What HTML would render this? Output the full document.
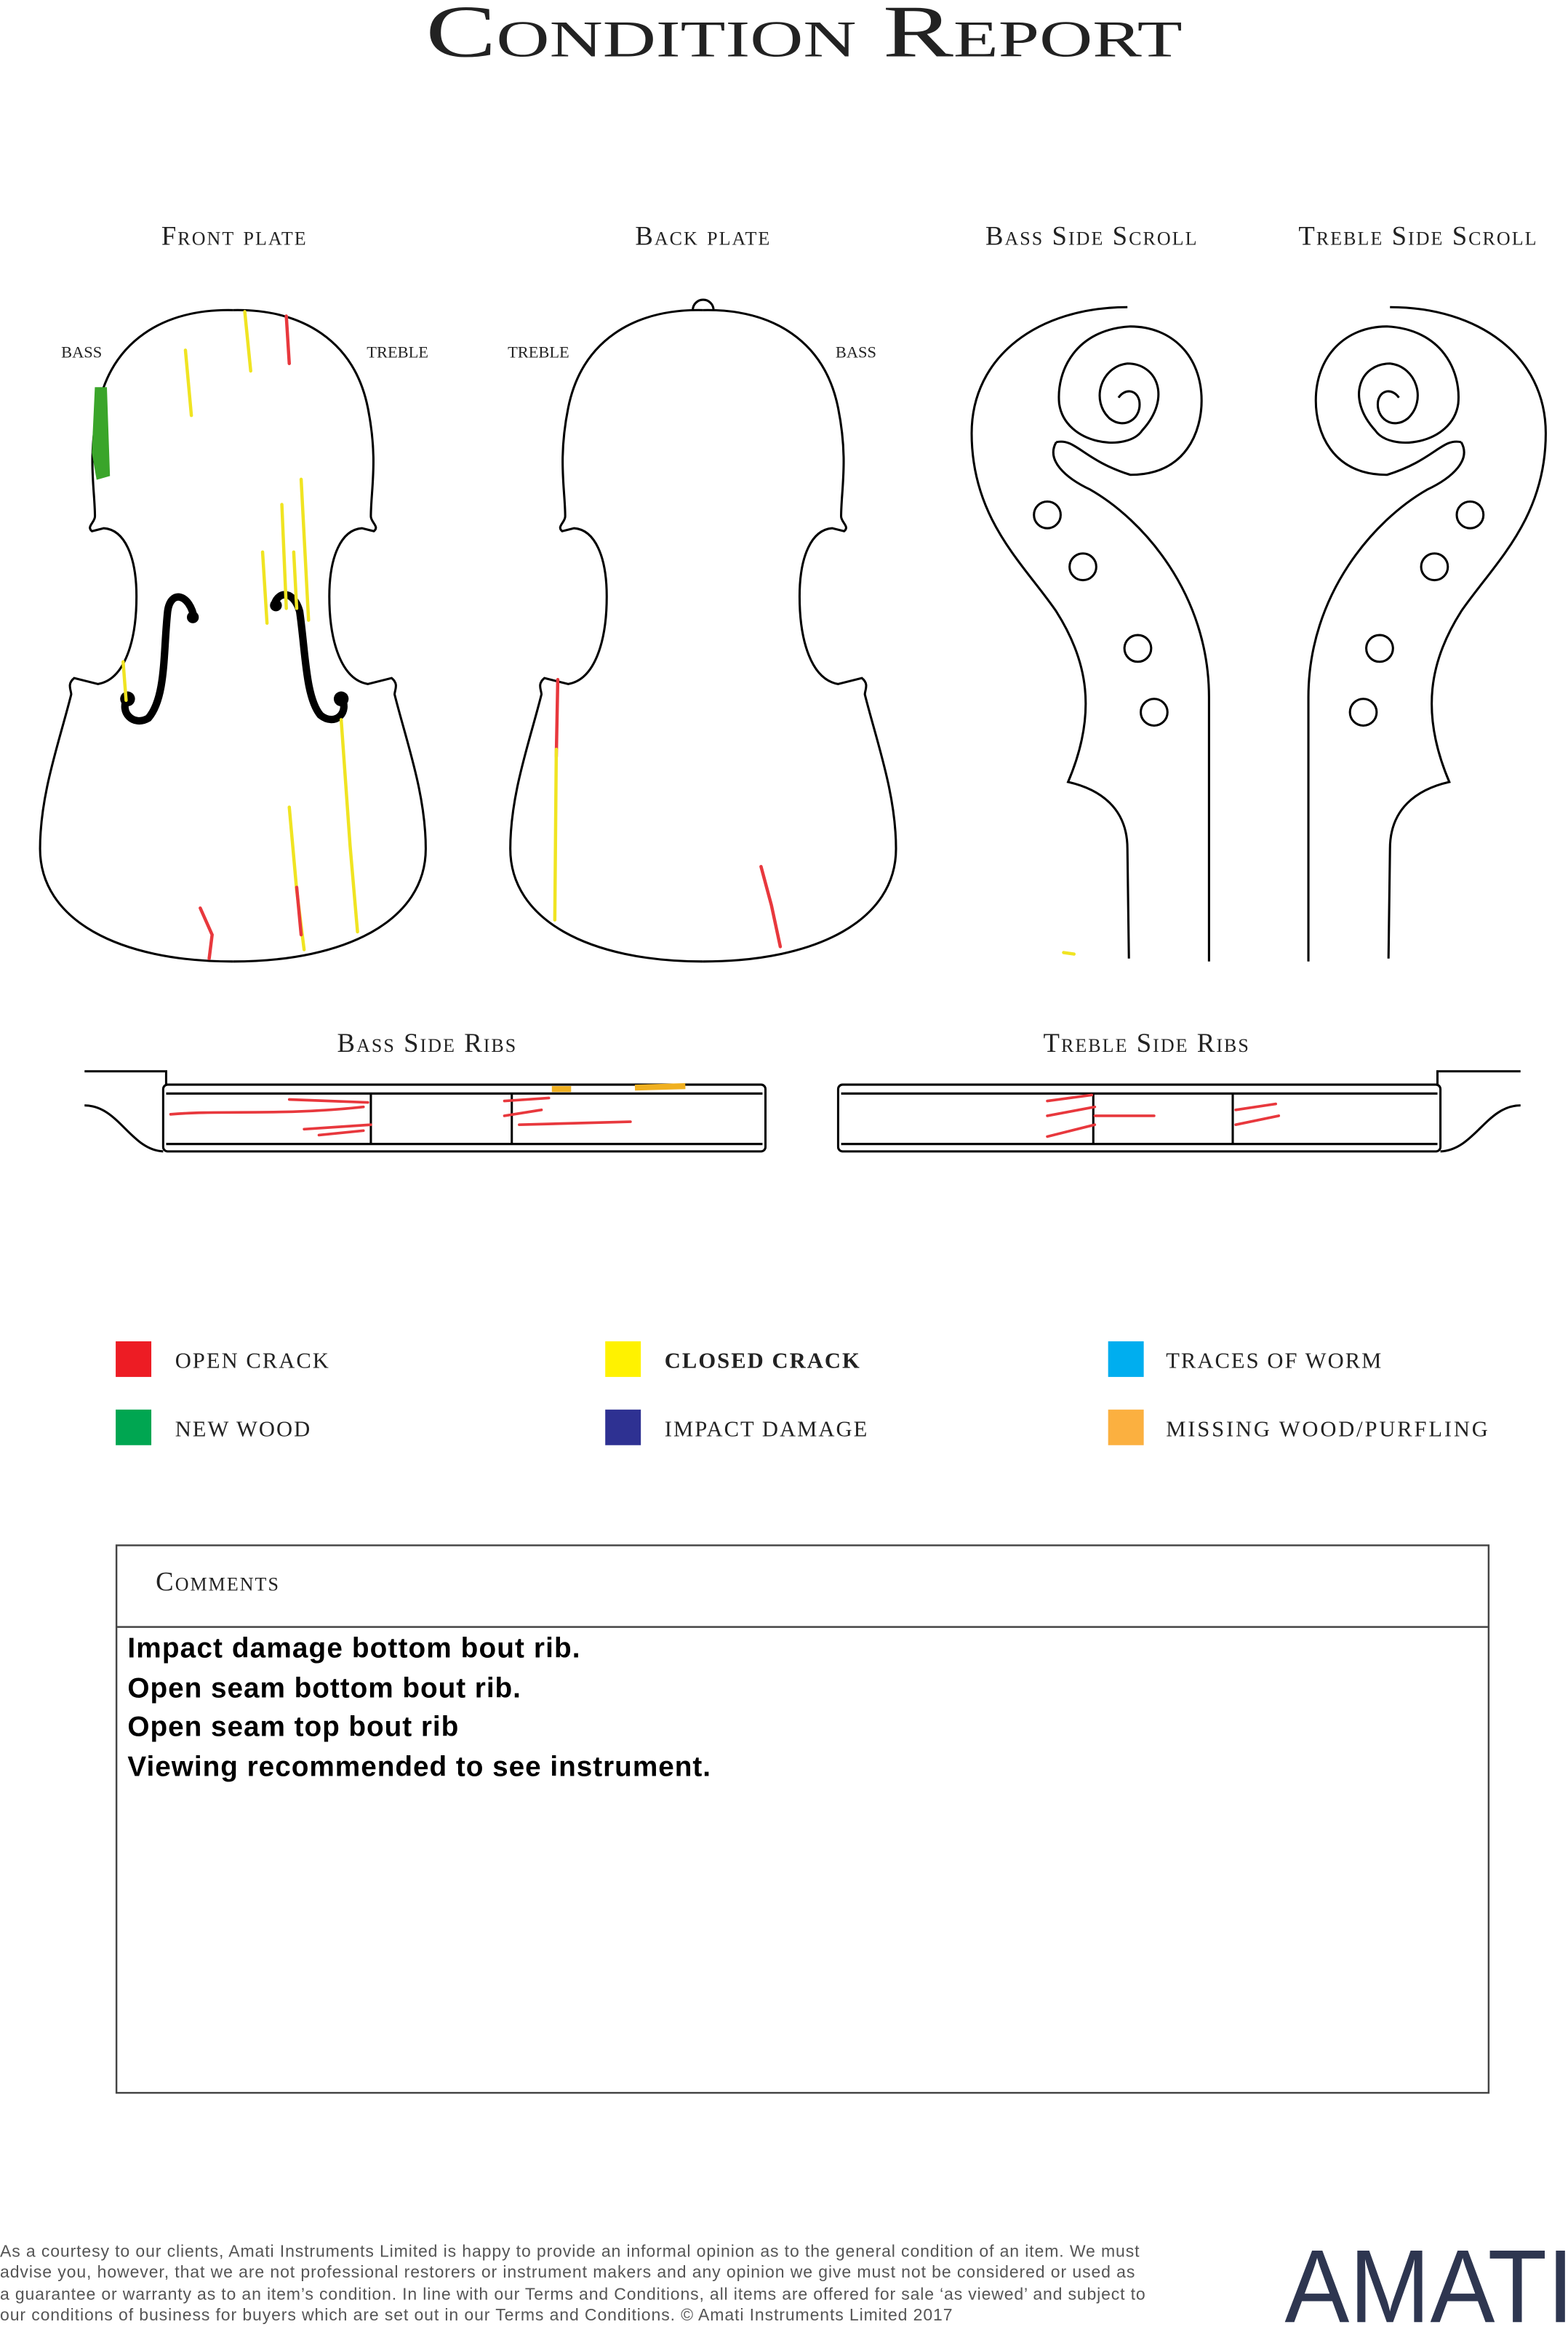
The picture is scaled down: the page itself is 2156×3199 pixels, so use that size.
<!DOCTYPE html>
<html><head><meta charset="utf-8"><style>
html,body{margin:0;padding:0;background:#fff}
svg{display:block}
.sc{font-family:"Liberation Serif",serif;font-variant:small-caps;fill:#222}
.o{fill:none;stroke:#000;stroke-width:1.5}
</style></head><body>
<svg width="2156" height="3199" viewBox="0 0 1057 1568.3" xmlns="http://www.w3.org/2000/svg">
<text x="287" y="38" class="sc" font-size="50" textLength="510" lengthAdjust="spacingAndGlyphs">Condition Report</text>

<g class="sc" font-size="18" text-anchor="middle" letter-spacing="1">
<text x="158" y="165">Front plate</text>
<text x="474" y="165">Back plate</text>
<text x="736" y="165">Bass Side Scroll</text>
<text x="956" y="165">Treble Side Scroll</text>
<text x="288" y="709">Bass Side Ribs</text>
<text x="773" y="709">Treble Side Ribs</text>
</g>
<g class="sc" font-size="11" text-anchor="middle">
<text x="55" y="241">BASS</text><text x="268" y="241">TREBLE</text>
<text x="363" y="241">TREBLE</text><text x="577" y="241">BASS</text>
</g>

<defs>
<path id="half" d="M157,209 C110,208 75,230 66,275 C59,310 64,330 64,348 C64,352 58,355 62,358 L70,356 C84,357 92,375 92,402 C92,432 84,458 66,461 L50,457 C45,461 48,465 48,468 C40,500 27,535 27,572 C27,620 80,648 157,648"/>
<g id="scroll">
<path d="M760,207 C700,207 655,240 655,292 C655,350 690,380 712,412 C733,445 740,480 720,527 C742,532 760,545 760,572 L761,646"/>
<path d="M712,298 C705,310 718,322 735,330 C770,350 815,400 815,470 L815,648"/>
<path d="M712,298 C725,295 730,310 762,320 C800,320 810,290 810,270 C810,240 790,220 762,220 C725,222 712,250 714,272 C718,300 760,305 770,290 C790,268 780,245 760,245 C742,247 735,270 748,282 C758,290 770,282 768,270 C766,262 758,262 754,268"/>
<circle cx="706" cy="347" r="9"/><circle cx="730" cy="382" r="9"/><circle cx="767" cy="437" r="9"/><circle cx="778" cy="480" r="9"/>
</g>
</defs>
<g class="o">
<use href="#half"/><use href="#half" transform="translate(314,0) scale(-1,1)"/>
<g transform="translate(317,0)"><use href="#half"/><use href="#half" transform="translate(314,0) scale(-1,1)"/></g>
<path d="M467,209 A7,7 0 0 1 481,209"/>
<use href="#scroll"/>
<use href="#scroll" transform="translate(1697,0) scale(-1,1)"/>
</g>
<!-- f-holes -->
<g fill="none" stroke="#000" stroke-linecap="round">
<path d="M131,417 C128,400 115,397 113,412 C110,440 112,470 100,484 C90,490 80,480 86,470" stroke-width="5"/>
<path d="M185,407 C188,398 198,398 202,412 C206,440 206,470 216,482 C226,490 236,480 230,470" stroke-width="5"/>
</g>
<g fill="#000"><circle cx="130" cy="416" r="4"/><circle cx="86" cy="471" r="5"/><circle cx="186" cy="408" r="4"/><circle cx="230" cy="471" r="5"/></g>

<g fill="none" stroke-width="2.2" stroke-linecap="round">
<path d="M65,262 L63,305 L66,322 L73,320 L71,262 Z M67,265 L70,318" stroke="#3aa52a" fill="#3aa52a"/>
<g stroke="#f0e422">
<path d="M125,236 L129,280"/><path d="M165,210 L169,250"/><path d="M190,340 L193,410"/><path d="M203,323 L208,418"/>
<path d="M177,372 L180,420"/><path d="M198,372 L200,410"/><path d="M83,446 L85,472"/>
<path d="M230,485 L236,570 L241,628"/><path d="M195,544 L200,600 L205,640"/>
</g>
<g stroke="#e8383d"><path d="M193,213 L195,245"/><path d="M135,612 L143,630 L141,646"/><path d="M200,598 L203,630"/></g>
<path d="M376,458 L375,510" stroke="#e8383d"/><path d="M375,505 L374,620" stroke="#f0e422"/>
<path d="M513,584 L520,610 L526,638" stroke="#e8383d"/>
<path d="M717,642 L724,643" stroke="#f0e422"/>
</g>

<g class="o">
<rect x="110" y="731" width="406" height="45" rx="3"/><path d="M112,737 H514 M112,771 H514 M250,737 V771 M345,737 V771"/>
<path d="M57,722 H112 V731 M57,745 C80,745 88,775 110,776"/>
<rect x="565" y="731" width="406" height="45" rx="3"/><path d="M567,737 H969 M567,771 H969 M737,737 V771 M831,737 V771"/>
<path d="M1025,722 H969 V731 M1025,745 C1002,745 994,775 971,776"/>
</g>
<g fill="none" stroke="#e8383d" stroke-width="1.8" stroke-linecap="round">
<path d="M115,751 C150,748 190,752 245,746"/><path d="M195,741 L248,743"/><path d="M205,761 L250,758"/><path d="M215,765 L245,762"/>
<path d="M340,742 L370,740"/><path d="M340,752 L365,748"/><path d="M350,758 L425,756"/>
<path d="M706,742 L736,738"/><path d="M706,752 L738,746"/><path d="M706,766 L738,758"/><path d="M738,752 L778,752"/>
<path d="M833,748 L860,744"/><path d="M833,758 L862,752"/>
</g>
<g stroke="#f0b020" stroke-width="4"><path d="M372,734 L385,734"/><path d="M428,733 L462,732"/></g>

<rect x="78" y="904" width="24" height="24" fill="#ed1c24"/><rect x="78" y="950" width="24" height="24" fill="#00a651"/>
<rect x="408" y="904" width="24" height="24" fill="#fff200"/><rect x="408" y="950" width="24" height="24" fill="#2e3192"/>
<rect x="747" y="904" width="24" height="24" fill="#00aeef"/><rect x="747" y="950" width="24" height="24" fill="#fbb040"/>
<g font-family="Liberation Serif,serif" font-size="15" fill="#222" letter-spacing="1">
<text x="118" y="922">OPEN CRACK</text><text x="118" y="968">NEW WOOD</text>
<text x="448" y="922" font-weight="bold">CLOSED CRACK</text><text x="448" y="968">IMPACT DAMAGE</text>
<text x="786" y="922">TRACES OF WORM</text><text x="786" y="968" textLength="218">MISSING WOOD/PURFLING</text>
</g>

<rect x="78.5" y="1041.5" width="925" height="369" fill="none" stroke="#444" stroke-width="1.2"/>
<path d="M78.5,1096.5 H1003.5" stroke="#444" stroke-width="1.2"/>
<text x="105" y="1072" class="sc" font-size="18" letter-spacing="1">Comments</text>
<g font-family="Liberation Sans,sans-serif" font-size="19" font-weight="bold" fill="#000" lengthAdjust="spacingAndGlyphs">
<text x="86" y="1117" textLength="305">Impact damage bottom bout rib.</text>
<text x="86" y="1144" textLength="265">Open seam bottom bout rib.</text>
<text x="86" y="1170" textLength="223">Open seam top bout rib</text>
<text x="86" y="1197" textLength="393">Viewing recommended to see instrument.</text>
</g>

<g font-family="Liberation Sans,sans-serif" font-size="11.3" fill="#555">
<text x="0" y="1521" textLength="768">As a courtesy to our clients, Amati Instruments Limited is happy to provide an informal opinion as to the general condition of an item. We must</text>
<text x="0" y="1535" textLength="765">advise you, however, that we are not professional restorers or instrument makers and any opinion we give must not be considered or used as</text>
<text x="0" y="1550" textLength="772">a guarantee or warranty as to an item’s condition. In line with our Terms and Conditions, all items are offered for sale ‘as viewed’ and subject to</text>
<text x="0" y="1564" textLength="642">our conditions of business for buyers which are set out in our Terms and Conditions. © Amati Instruments Limited 2017</text>
</g>
<text x="866" y="1565" font-family="Liberation Sans,sans-serif" font-size="70" fill="#2e3650" textLength="195" lengthAdjust="spacingAndGlyphs">AMATI</text>
</svg>
</body></html>
